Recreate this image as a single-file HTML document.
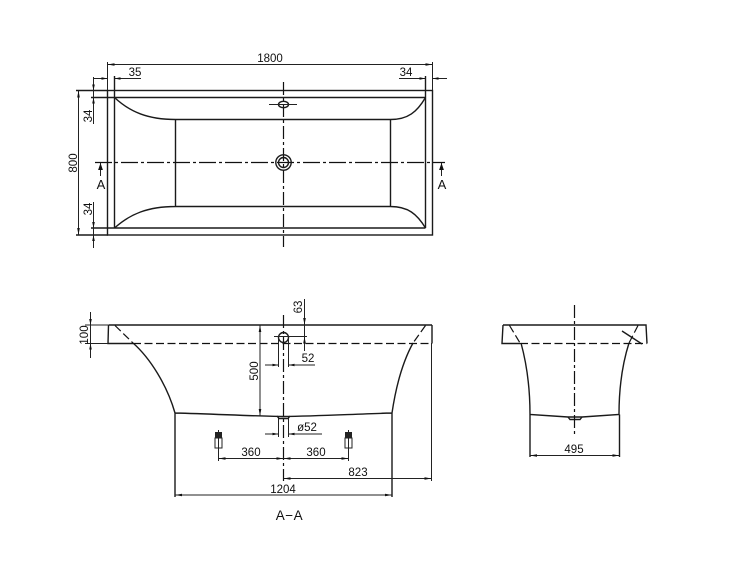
<!DOCTYPE html>
<html><head><meta charset="utf-8"><style>
html,body{margin:0;padding:0;background:#fff}
svg{display:block;filter:blur(.3px)}
text{font-family:"Liberation Sans",sans-serif;font-size:11.5px;fill:#111;text-anchor:middle}
.m{stroke:#1a1a1a;stroke-width:1.4;fill:none}
.t{stroke:#222;stroke-width:1;fill:none}
.c{stroke:#111;stroke-width:1.2;fill:none;stroke-dasharray:17 3 3 3}
.v{stroke:#111;stroke-width:1.2;fill:none;stroke-dasharray:13 3 3 3}
.d{stroke:#111;stroke-width:1.2;fill:none;stroke-dasharray:8 3.5}
.a{fill:#111;stroke:none}
</style></head><body>
<svg width="750" height="563" viewBox="0 0 750 563" xmlns="http://www.w3.org/2000/svg">
<!-- TOP VIEW -->
<rect class="m" x="107.5" y="90.5" width="325" height="144.5"/>
<path class="m" d="M91 97.5H425.5M91 228H425.5M114.5 76V228M425.5 76V228M76 90.5H108M76 235H108"/>
<path class="m" d="M175.5 119.5H390.5V206.5H175.5ZM114.5 97.5C130 112 148 119.5 175.5 119.5M425.5 97.5C417 112 408 119.5 390.5 119.5M114.5 228C130 214 148 206.5 175.5 206.5M425.5 228C417 214 408 206.5 390.5 206.5"/>
<path class="c" d="M95 162.5H445"/>
<path class="v" d="M283.5 82V247"/>
<ellipse class="m" cx="283.5" cy="104.5" rx="5" ry="3.2"/><path class="t" d="M269 104.5H297"/>
<circle class="m" cx="283.5" cy="162.5" r="7.7"/><circle class="m" cx="283.5" cy="162.5" r="5"/>
<!-- dims top -->
<path class="t" d="M107.5 62V90M432.5 62V90M107.5 64.5H432.5"/>
<path class="a" d="M107.5 64.5l7-1.3v2.6zM432.5 64.5l-7-1.3v2.6z"/>
<text x="270" y="62">1800</text>
<path class="t" d="M93 78.5H107.5M114.5 78.5H141M399 78.5H425.5M432.5 78.5H447"/>
<path class="a" d="M107.5 78.5l-6-1.3v2.6zM114.5 78.5l6-1.3v2.6zM425.5 78.5l-6-1.3v2.6zM432.5 78.5l6-1.3v2.6z"/>
<text x="135" y="76">35</text><text x="406" y="76">34</text>
<path class="t" d="M78.5 90.5V235"/>
<path class="a" d="M78.5 90.5l-1.3 7h2.6zM78.5 235l-1.3-7h2.6z"/>
<text transform="translate(77 163) rotate(-90)" x="0" y="0">800</text>
<path class="t" d="M93.5 77V124M93.5 202V248"/>
<path class="a" d="M93.5 90.5l-1.3-6h2.6zM93.5 97.5l-1.3 6h2.6zM93.5 228l-1.3-6h2.6zM93.5 235l-1.3 6h2.6z"/>
<text transform="translate(92 116) rotate(-90)">34</text>
<text transform="translate(92 209) rotate(-90)">34</text>
<path class="t" d="M100.5 163V176M441.5 163V176"/>
<path class="a" d="M100.5 163l-2.4 7h4.8zM441.5 163l-2.4 7h4.8z"/>
<text x="101" y="189" style="font-size:13px">A</text><text x="442" y="189" style="font-size:13px">A</text>

<!-- SECTION A-A -->
<path class="m" d="M109 325H432M108.5 325L108 343.5H133M432 325V343.5M133 343C150 358 167 385 175 413C215 414 250 416 283 416.5C320 416 355 414 392 413C396 386 402 363 413 343M175 413V497M392 413V497"/>
<path class="d" d="M133 343.5H432"/>
<path class="d" d="M115 325.5L133 343M425.5 325.5L413 343"/>
<path class="v" d="M283.5 315V481"/>
<circle class="m" cx="283.5" cy="337.5" r="5"/>
<path class="t" d="M278.5 338V367M288.5 338V367M274 336.5H307M278.5 417V437M288.5 417V437"/>
<path class="m" d="M277 416L279 418.5H288L290 416"/>
<path class="t" d="M304.5 299V351M90.5 312V358M85 325H109M85 343.5H108M260 325V416"/>
<path class="a" d="M304.5 325l-1.3-7h2.6zM304.5 336.5l-1.3 7h2.6zM90.5 325l-1.3-6h2.6zM90.5 343.5l-1.3 6h2.6zM260 325l-1.3 7h2.6zM260 416l-1.3-7h2.6z"/>
<text transform="translate(302 307) rotate(-90)">63</text>
<text transform="translate(88 335) rotate(-90)">100</text>
<text transform="translate(258 371) rotate(-90)">500</text>
<path class="t" d="M265 365H278.5M288.5 365H315M265 434H278.5M288.5 434H322"/>
<path class="a" d="M278.5 365l-6-1.3v2.6zM288.5 365l6-1.3v2.6zM278.5 434l-6-1.3v2.6zM288.5 434l6-1.3v2.6z"/>
<text x="308" y="362">52</text><text x="307" y="431">ø52</text>
<!-- feet -->
<path class="t" d="M218.5 430V461M348.5 430V461"/>
<rect x="215" y="432" width="7" height="6" fill="#222"/><rect x="345" y="432" width="7" height="6" fill="#222"/>
<rect class="t" x="215" y="438" width="7" height="10"/><rect class="t" x="345" y="438" width="7" height="10"/>
<path class="t" d="M218.5 458.5H348.5M283.5 478.5H431.5M431.5 343V481M175 495H392"/>
<path class="a" d="M218.5 458.5l7-1.3v2.6zM283.5 458.5l-7-1.3v2.6zM283.5 458.5l7-1.3v2.6zM348.5 458.5l-7-1.3v2.6zM283.5 478.5l7-1.3v2.6zM431.5 478.5l-7-1.3v2.6zM175 495l7-1.3v2.6zM392 495l-7-1.3v2.6z"/>
<text x="251" y="456">360</text><text x="316" y="456">360</text>
<text x="358" y="476">823</text><text x="283" y="493">1204</text>
<text x="289.5" y="520" style="font-size:13.5px;letter-spacing:.5px">A−A</text>

<!-- END VIEW -->
<path class="m" d="M503 325H646L647 343.5M503 325L502 343.5H520M521 343C527 365 530 390 530 414.5L568 417H582L619 414.5C619 390 622 365 629 343M530 414.5V457M619.5 414.5V457M622 331L642 344"/>
<path class="d" d="M520 343.5H647"/>
<path class="d" d="M509.5 325.5L520 343M638 325.5L629 343"/>
<path class="m" d="M568 417L570 419.5H580L582 417"/>
<path class="v" d="M574.5 305V436"/>
<path class="t" d="M530 455.5H619.5"/>
<path class="a" d="M530 455.5l7-1.3v2.6zM619.5 455.5l-7-1.3v2.6z"/>
<text x="574" y="453">495</text>
</svg>
</body></html>
